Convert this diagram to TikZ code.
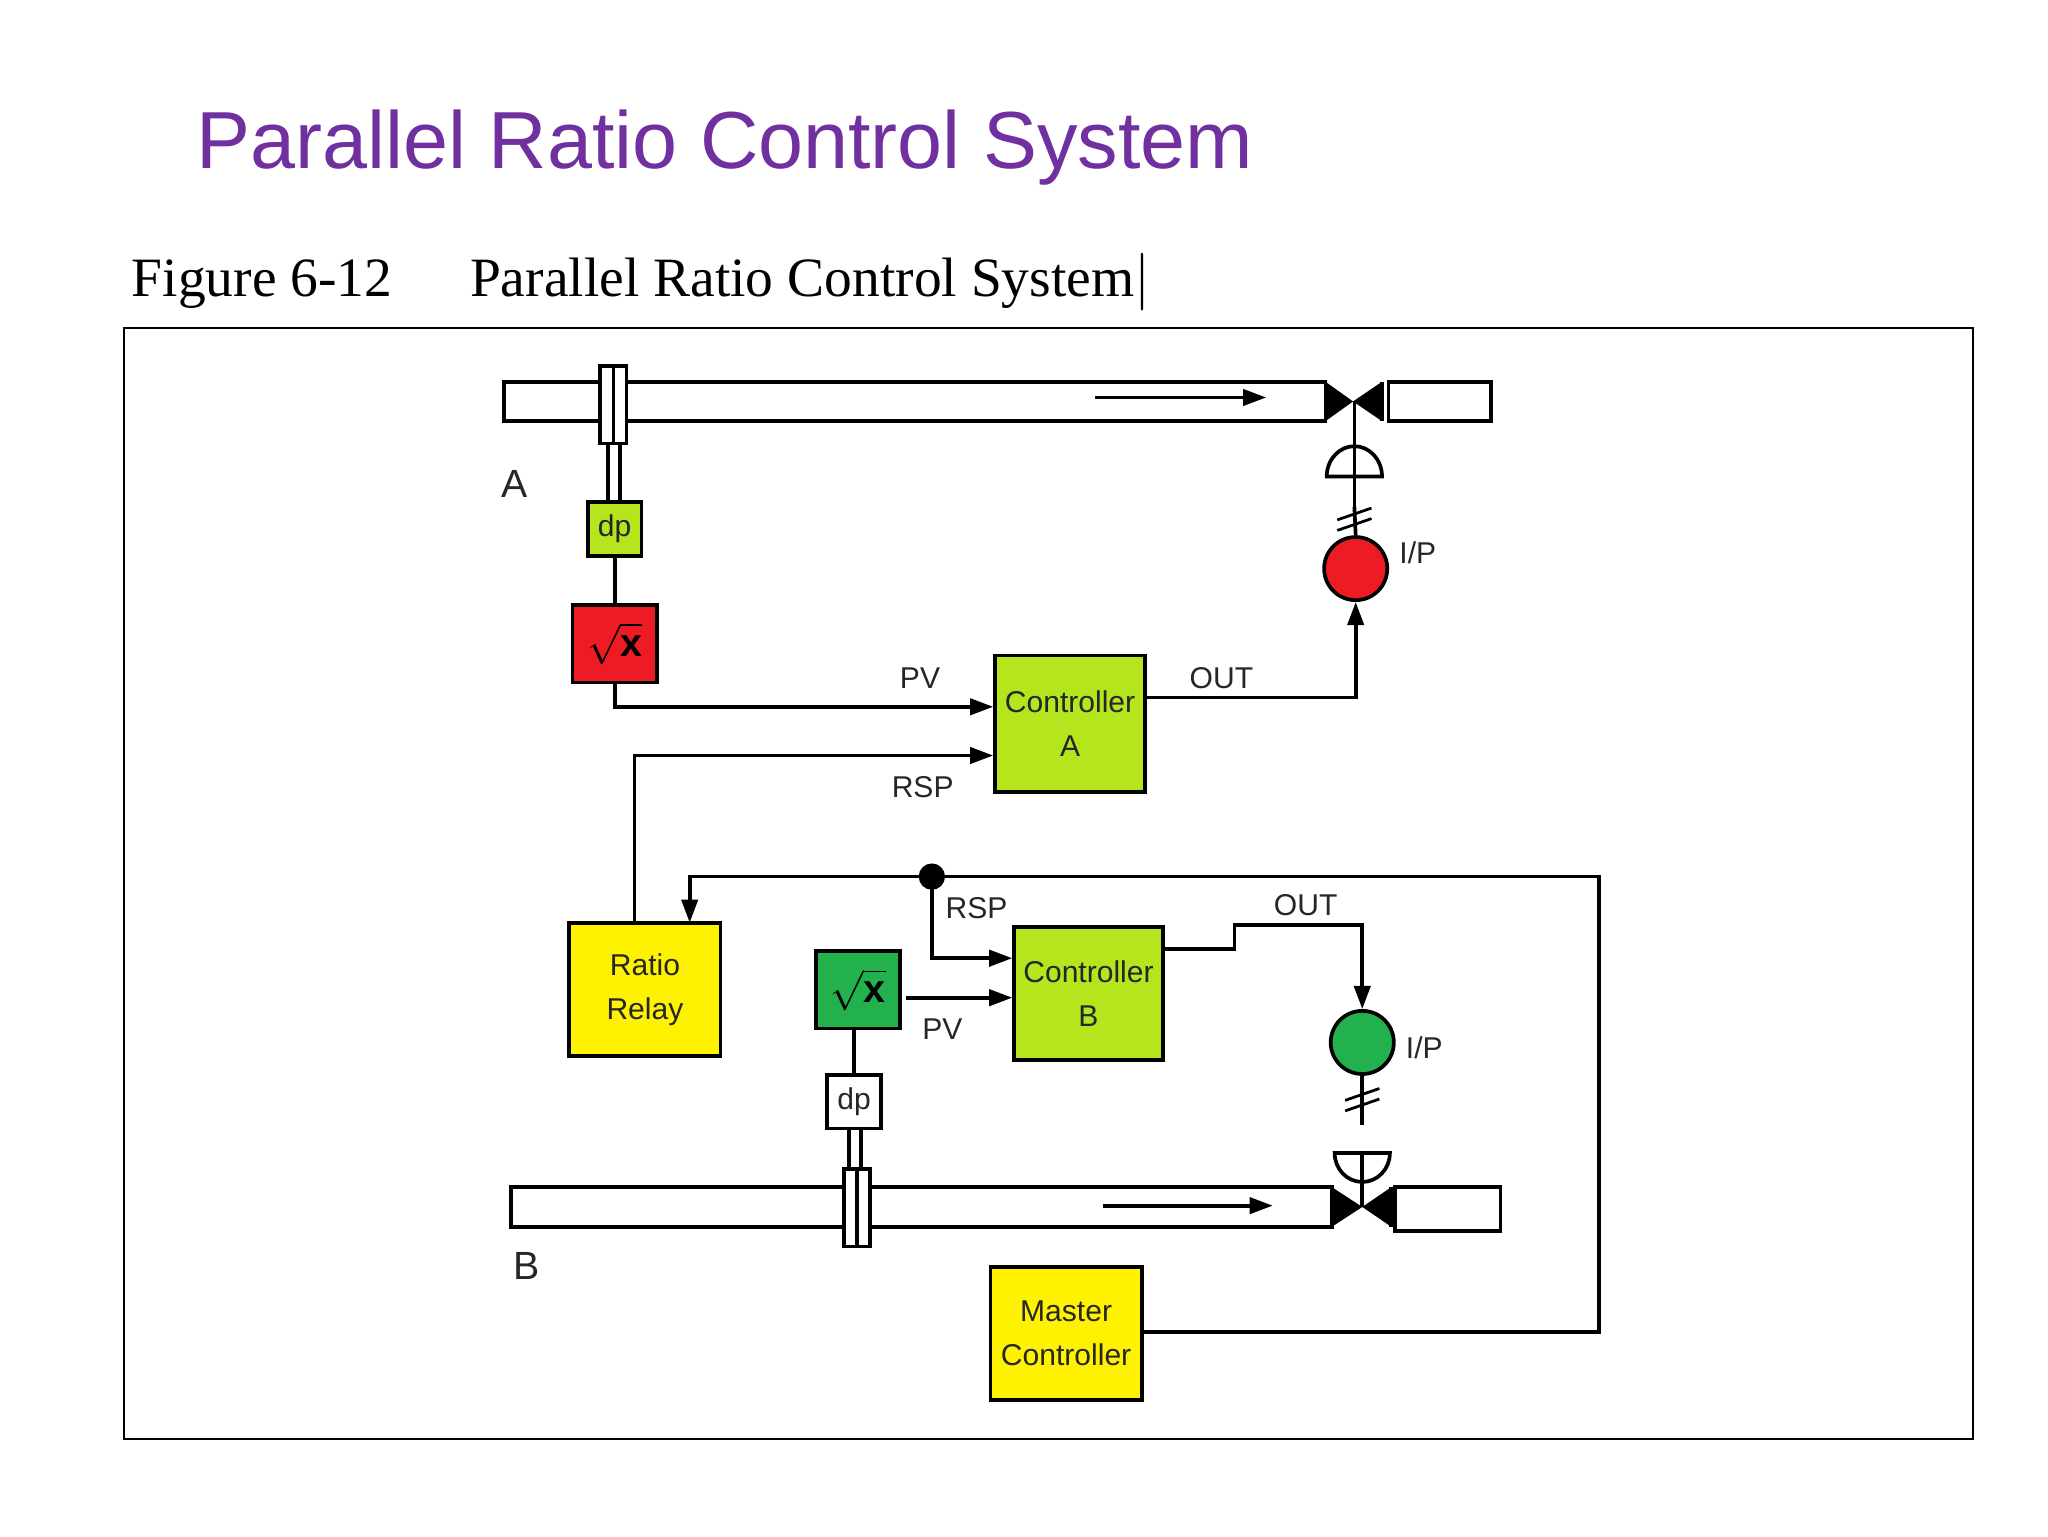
\documentclass[tikz,border=0pt]{standalone}
\usepackage{fontspec}
\setmainfont{Liberation Sans}
\newfontfamily\serifx{Liberation Serif}
\usetikzlibrary{arrows.meta}
\definecolor{lime}{HTML}{B5E61D}
\definecolor{rred}{HTML}{ED1C24}
\definecolor{ggreen}{HTML}{22B14C}
\definecolor{yel}{HTML}{FFF200}
\definecolor{purp}{HTML}{7030A0}
\begin{document}
\begin{tikzpicture}[x=0.02cm,y=-0.02cm,
  ln/.style={line width=1.6pt},
  arr/.style={ln,-{Triangle[length=10pt,width=7pt]}},
  box/.style={draw,line width=1.6pt,inner sep=0pt},
  lbl/.style={font=\fontsize{13}{15}\selectfont,text=black!85},
  pipe/.style={draw,line width=1.6pt,fill=white}]
\useasboundingbox (0,0) rectangle (1556,1167);
\node[anchor=west,text=purp,font=\fontsize{35}{40}\selectfont] (title) at (143,112) {Parallel Ratio Control System};
\node[anchor=west,font=\serifx\fontsize{24}{28}\selectfont] (cap) at (94,214) {Figure 6-12\hspace{1.4em}Parallel Ratio Control System$|$};
\draw[line width=0.8pt] (94,249) rectangle (1499,1093);
% pipe A
\draw[pipe] (383,290) rectangle (1007,320);
\draw[pipe] (1055,290) rectangle (1133,320);
\fill (1007,290) -- (1028,305) -- (1007,320) -- cycle;
\fill (1050,290) -- (1028,305) -- (1050,320) -- cycle;
\draw[line width=1.6pt] (1007,290)--(1007,320) (1050,290)--(1050,320);
\draw[pipe] (456,278) rectangle (476,337);
\draw[ln] (466,278)--(466,337);
\draw[arr] (832,302)--(962,302);
\node[lbl,font=\fontsize{17}{20}\selectfont] (lA) at (391,368) {A};
% dp A
\node[box,fill=lime,minimum width=41\pgflinewidth,minimum size=0.82cm,lbl] (dpA) at (467,402) {dp};
\draw[ln] (462,337)--(462,381) (471,337)--(471,381);
\node[box,fill=rred,minimum width=1.28cm,minimum height=1.18cm] (sqA) at (467,489) {\fontsize{17}{17}\selectfont$\sqrt{\mathbf{x}}$};
\draw[ln] (dpA)--(sqA);
\node[box,fill=lime,minimum width=2.28cm,minimum height=2.08cm,lbl,align=center] (cA) at (813,550) {Controller\\[4pt]A};
\draw[arr] (sqA.south) |- (cA.west|-0,537);
\node[lbl] at (699,515) {PV};
\node[lbl] at (928,515) {OUT};
% actuator A
\node[circle,draw,line width=1.6pt,fill=rred,minimum width=0.88cm,minimum height=0.96cm,inner sep=0pt] (ipA) at (1030,432) {};
\node[lbl,anchor=west] at (1057,420) {I/P};
\draw[arr] (cA.east|-0,530) -| (ipA.south);
\draw[ln,fill=white] (1008,362) -- (1050,362) arc[start angle=0,end angle=-180,x radius=21,y radius=23] -- cycle;
\draw[ln] (1029,305)--(1029,385);
\draw[ln] (1029,385)--(ipA.north);
\draw[line width=1.2pt] (1016,395)--(1042,386) (1016,403)--(1042,394);
% ratio relay
\node[box,fill=yel,minimum width=2.3cm,minimum height=2.02cm,lbl,align=center] (rr) at (490,752) {Ratio\\[4pt]Relay};
\draw[arr] (482,701) |- (cA.west|-0,574);
\node[lbl] at (701,598) {RSP};
% master
\node[box,fill=yel,minimum width=2.3cm,minimum height=2.02cm,lbl,align=center] (mc) at (810,1013) {Master\\[4pt]Controller};
\coordinate (dot) at (708,666);
\draw[arr] (mc.east|-0,1012) -- (1215,1012) -- (1215,666) -- (524,666) -- (524,701);
\fill (dot) circle (10);
% controller B
\node[box,fill=lime,minimum width=2.26cm,minimum height=2.02cm,lbl,align=center] (cB) at (827,755) {Controller\\[4pt]B};
\draw[arr] (dot) |- (cB.west|-0,728);
\node[lbl] at (742,690) {RSP};
\node[box,fill=ggreen,minimum width=1.28cm,minimum height=1.18cm] (sqB) at (652,752) {\fontsize{17}{17}\selectfont$\sqrt{\mathbf{x}}$};
\draw[arr] (688,758)--(cB.west|-0,758);
\node[lbl] at (716,782) {PV};
\node[box,fill=white,minimum size=0.82cm,lbl] (dpB) at (649,837) {dp};
\draw[ln] (649,782)--(dpB.north);
\node[lbl] at (992,688) {OUT};
\node[circle,draw,line width=1.6pt,fill=ggreen,minimum width=0.88cm,minimum height=0.96cm,inner sep=0pt] (ipB) at (1035,792) {};
\node[lbl,anchor=west] at (1062,796) {I/P};
\draw[arr] (cB.east|-0,721) -- (938,721) -- (938,703) -- (1035,703) -- (ipB.north);
% pipe B
\draw[pipe] (388,902) rectangle (1012,932);
\draw[pipe] (1060,902) rectangle (1140,935);
\fill (1012,902) -- (1035,917) -- (1012,932) -- cycle;
\fill (1057,902) -- (1035,917) -- (1057,932) -- cycle;
\draw[line width=1.6pt] (1012,902)--(1012,932) (1057,902)--(1057,932);
\draw[ln] (645,857)--(645,888) (654,857)--(654,888);
\draw[pipe] (641,888) rectangle (661,947);
\draw[ln] (651,888)--(651,947);
\draw[arr] (838,916)--(967,916);
\node[lbl,font=\fontsize{17}{20}\selectfont] (lB) at (400,962) {B};
\draw[ln] (ipB.south)--(1035,855);
\draw[ln,fill=white] (1014,876) -- (1056,876) arc[start angle=0,end angle=180,x radius=21,y radius=22] -- cycle;
\draw[ln] (1035,876)--(1035,917);
\draw[line width=1.2pt] (1022,836)--(1048,827) (1022,844)--(1048,835);
\end{tikzpicture}
\end{document}
